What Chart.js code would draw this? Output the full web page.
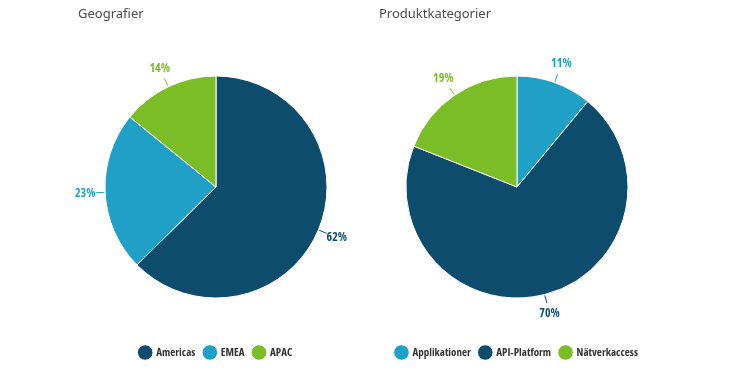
<!DOCTYPE html>
<html>
<head>
<meta charset="utf-8">
<script src="https://cdn.jsdelivr.net/npm/chart.js@4"></script>
<style>
    body { margin: 0; background: #fff; }
    .wrap { position: relative; width: 732px; height: 377px; }
    .box { position: absolute; top: 0; width: 366px; height: 377px; }
    .title { position: absolute; top: 4px; font-family: "Noto Sans", sans-serif; font-size: 13px; color: #4a4a4a; }
</style>
</head>
<body>
<div class="wrap">
    <div class="box" style="left:0"><canvas id="geoChart" width="366" height="377"></canvas></div>
    <div class="box" style="left:366px"><canvas id="prodChart" width="366" height="377"></canvas></div>
    <div class="title" style="left:78px">Geografier</div>
    <div class="title" style="left:379px">Produktkategorier</div>
</div>
<script>
"use strict"

const geoLabels = ['Americas', 'EMEA', 'APAC'];
const geoValues = [62, 23, 14];
const geoColors = ['#0e4c6d', '#20a0c6', '#7bbd26'];

const prodLabels = ['Applikationer', 'API-Platform', 'Nätverkaccess'];
const prodValues = [11, 70, 19];
const prodColors = ['#20a0c6', '#0e4c6d', '#7bbd26'];

// police condensée (Open Sans, largeur réduite)
const labelFont = 'bold condensed 12px "Open Sans", sans-serif';

// étiquettes en pourcentage avec ligne de rappel
const pctLabels = {
    id: 'pctLabels',
    afterDatasetsDraw(chart) {
        const ctx = chart.ctx;
        const meta = chart.getDatasetMeta(0);
        const data = chart.data.datasets[0].data;
        const colors = chart.data.datasets[0].backgroundColor;
        ctx.save();
        ctx.font = labelFont;
        ctx.textAlign = 'center';
        ctx.textBaseline = 'middle';
        meta.data.forEach((arc, i) => {
            const a = (arc.startAngle + arc.endAngle) / 2;
            const r = arc.outerRadius;
            const cx = arc.x, cy = arc.y;
            ctx.strokeStyle = colors[i];
            ctx.lineWidth = 1;
            ctx.beginPath();
            ctx.moveTo(cx + Math.cos(a) * (r + 1), cy + Math.sin(a) * (r + 1));
            ctx.lineTo(cx + Math.cos(a) * (r + 9), cy + Math.sin(a) * (r + 9));
            ctx.stroke();
            ctx.fillStyle = colors[i];
            ctx.fillText(data[i] + '%', cx + Math.cos(a) * (r + 20), cy + Math.sin(a) * (r + 20));
        });
        ctx.restore();
    }
};

function makePie(id, labels, values, colors, padLeft, padRight) {
    const ctx = document.getElementById(id).getContext('2d');
    return new Chart(ctx, {
        type: 'pie',
        data: {
            labels: labels,
            datasets: [{
                data: values,
                backgroundColor: colors,
                borderColor: '#ffffff',
                borderWidth: 1,
                radius: 111
            }]
        },
        options: {
            responsive: false,
            animation: false,
            layout: {
                padding: { top: 36, bottom: 9, left: padLeft, right: padRight }
            },
            plugins: {
                tooltip: { enabled: false },
                legend: {
                    position: 'bottom',
                    labels: {
                        usePointStyle: true,
                        pointStyle: 'circle',
                        boxWidth: 12,
                        boxHeight: 12,
                        padding: 9,
                        color: '#333',
                        font: { family: '"Open Sans", sans-serif', size: 11, weight: 'bold condensed' }
                    }
                }
            }
        },
        plugins: [pctLabels]
    });
}

makePie('geoChart', geoLabels, geoValues, geoColors, 66, 0);
makePie('prodChart', prodLabels, prodValues, prodColors, 0, 64);
</script>
</body>
</html>
